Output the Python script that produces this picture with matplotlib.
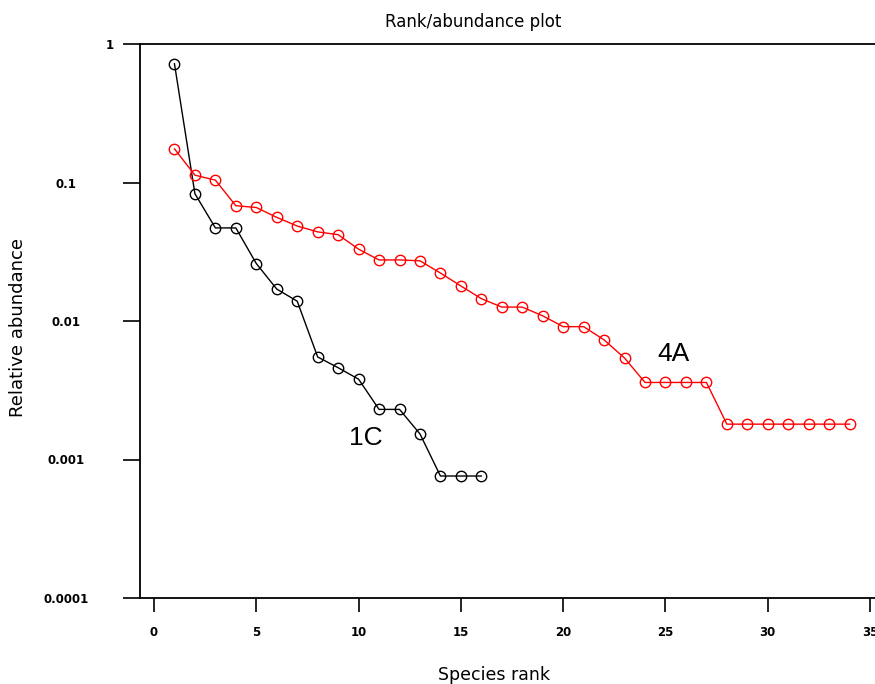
import matplotlib
matplotlib.use("Agg")
import matplotlib.pyplot as plt
import matplotlib.transforms as mtransforms

# 1C
rank_1c = list(range(1, 17))
abund_1c = [0.72, 0.083, 0.047, 0.047, 0.026, 0.017, 0.0139, 0.0055,
            0.0046, 0.0038, 0.0023, 0.0023, 0.00153, 0.00076, 0.00076, 0.00076]

# 4A
rank_4a = list(range(1, 35))
abund_4a = [0.175, 0.113, 0.104, 0.068, 0.066, 0.056, 0.0485, 0.044, 0.042,
            0.033, 0.0276, 0.0276, 0.0272, 0.0222, 0.0179, 0.0145, 0.0126,
            0.0126, 0.0109, 0.0091, 0.0091, 0.0073, 0.0054, 0.0036, 0.0036,
            0.0036, 0.0036, 0.0018, 0.0018, 0.0018, 0.0018, 0.0018, 0.0018, 0.0018]

yticks = [1, 0.1, 0.01, 0.001, 0.0001]
ytick_labels = ["1", "0.1", "0.01", "0.001", "0.0001"]
xticks = [0, 5, 10, 15, 20, 25, 30, 35]

fig = plt.figure(figsize=(8.75, 6.84), dpi=100)
ax = fig.add_axes([140/875, 86/684, 735/875, 554/684])

ax.plot(rank_1c, abund_1c, color="black", lw=1, marker="o", ms=7.5,
        mfc="none", mec="black", mew=1)
ax.plot(rank_4a, abund_4a, color="red", lw=1, marker="o", ms=7.5,
        mfc="none", mec="red", mew=1)

ax.set_yscale("log")
ax.set_ylim(0.0001, 1)
ax.set_xlim(-0.684, 35.24)
ax.set_yticks(yticks)
ax.set_yticklabels(ytick_labels)
ax.minorticks_off()
ax.set_xticks(xticks)
ax.tick_params(axis="y", direction="out", length=12, width=1.2, pad=41,
               labelsize=8.5)
ax.tick_params(axis="x", direction="out", length=10, width=1.2, pad=10,
               labelsize=8.5)
for lab in ax.get_yticklabels():
    lab.set_ha("center")
for lab in ax.get_xticklabels() + ax.get_yticklabels():
    lab.set_fontweight("bold")

# the "1" label sits further right in the original
top_lab = ax.get_yticklabels()[0]
top_lab.set_transform(top_lab.get_transform() +
                      mtransforms.ScaledTranslation(0.43, 0, fig.dpi_scale_trans))

ax.spines["right"].set_visible(False)
for s in ["left", "bottom", "top"]:
    ax.spines[s].set_linewidth(1.3)

ax.text(10.35, 0.00142, "1C", fontsize=19, family="Liberation Sans",
        ha="center", va="center")
ax.text(25.4, 0.0058, "4A", fontsize=19, family="Liberation Sans",
        ha="center", va="center")

fig.text(473/875, 1 - 22/684, "Rank/abundance plot", ha="center",
         va="center", fontsize=12)
fig.text(494/875, 1 - 675/684, "Species rank", ha="center", va="center",
         fontsize=12.5)
fig.text(18/875, 1 - 327/684, "Relative abundance", ha="center",
         va="center", rotation=90, fontsize=13)

fig.savefig("out.png", dpi=100)
